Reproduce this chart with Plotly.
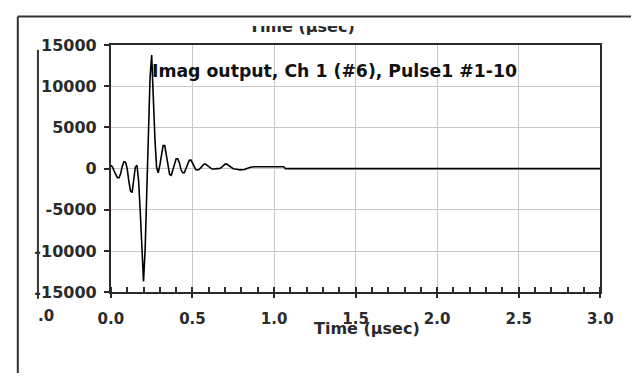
import plotly.graph_objects as go

W, H = 644, 383

# Waveform samples (time in µsec, amplitude)
time_us = [0.00, 0.01, 0.02, 0.03, 0.04, 0.05, 0.06, 0.07, 0.08, 0.09,
           0.10, 0.11, 0.12, 0.13, 0.14, 0.15, 0.16, 0.17, 0.18, 0.19,
           0.20, 0.21, 0.22, 0.23, 0.24, 0.25, 0.26, 0.27, 0.28, 0.29,
           0.30, 0.31, 0.32, 0.33, 0.34, 0.35, 0.36, 0.37, 0.38, 0.39,
           0.40, 0.41, 0.42, 0.43, 0.44, 0.45, 0.46, 0.47, 0.48, 0.49,
           0.50, 0.51, 0.52, 0.53, 0.54, 0.55, 0.56, 0.57, 0.58, 0.59,
           0.60, 0.61, 0.62, 0.63, 0.64, 0.65, 0.66, 0.67, 0.68, 0.69,
           0.70, 0.71, 0.72, 0.73, 0.74, 0.75, 0.76, 0.77, 0.78, 0.79,
           0.80, 0.81, 0.82, 0.83, 0.84, 0.85, 0.86, 0.87, 0.88, 0.95,
           1.00, 1.05, 1.06, 1.07, 1.50, 2.00, 2.50, 3.00]
amplitude = [400, 200, -300, -800, -1100, -1100, -600, 300, 850, 800,
             0, -1500, -2700, -2900, -1500, 200, 400, -1500, -5200, -9500,
             -13700, -9800, -2500, 4800, 11000, 13800, 8200, 3600, 200, -500,
             400, 1800, 2800, 2800, 1600, 100, -700, -800, -200, 600,
             1200, 1200, 700, -100, -500, -500, -100, 500, 1000, 1050,
             700, 250, -100, -150, -100, 100, 350, 530, 550, 400,
             150, 0, -50, -50, 0, 0, 0, 50, 200, 400,
             550, 550, 400, 200, 50, 0, -50, -50, -100, -150,
             -150, -150, -100, 0, 100, 150, 200, 200, 230, 230,
             230, 230, 230, 0, 0, 0, 0, 0]

x_ticks = [0.0, 0.5, 1.0, 1.5, 2.0, 2.5, 3.0]
y_ticks = [-15000, -10000, -5000, 0, 5000, 10000, 15000]

title_text = "Imag output, Ch 1 (#6), Pulse1 #1-10"
axis_title = "Time (µsec)"

FONT = "DejaVu Sans"
DARK = "#2a2a2a"

def px(x):
    return x / W

def py(y):
    return 1 - y / H

# plot area in pixels
L, R, T, B = 102, 612, 38, 298

fig = go.Figure()
fig.add_trace(go.Scatter(x=time_us, y=amplitude, mode="lines",
                         line=dict(color="black", width=1.6),
                         showlegend=False, hoverinfo="skip"))

# clipped title fragment at top (partly hidden)
fig.add_trace(go.Scatter(x=[301], y=[19.5], mode="text", text=[axis_title],
                         textposition="middle center", cliponaxis=True,
                         textfont=dict(family=FONT, size=16, color=DARK, weight="bold"),
                         xaxis="x2", yaxis="y2", showlegend=False, hoverinfo="skip"))

grid = "#c8c8c8"
fig.update_layout(
    width=W, height=H,
    margin=dict(l=0, r=0, t=0, b=0),
    paper_bgcolor="white", plot_bgcolor="white",
    xaxis=dict(domain=[px(L), px(R)], range=[0, 3], tickvals=x_ticks,
               ticktext=[f"{v:.1f}" for v in x_ticks],
               showgrid=True, gridcolor=grid, gridwidth=1,
               zeroline=False, showline=True, linecolor=DARK, linewidth=2,
               mirror=True, ticks="outside", ticklen=4, tickcolor=DARK, tickwidth=1.5,
               minor=dict(dtick=0.1, ticks="inside", ticklen=5, tickcolor=DARK, showgrid=False),
               ticklabelstandoff=8,
               tickfont=dict(family=FONT, size=15, color=DARK, weight="bold")),
    yaxis=dict(domain=[py(B), py(T)], range=[-15000, 15000], tickvals=y_ticks,
               ticktext=[str(v) for v in y_ticks],
               showgrid=True, gridcolor=grid, gridwidth=1,
               zeroline=False, showline=True, linecolor=DARK, linewidth=2,
               mirror=True, ticks="outside", ticklen=5, tickcolor=DARK, tickwidth=1.5,
               ticklabelstandoff=4,
               tickfont=dict(family=FONT, size=16, color=DARK, weight="bold")),
    xaxis2=dict(domain=[0, 1], range=[0, W], visible=False, fixedrange=True),
    yaxis2=dict(domain=[py(35), py(18)], range=[35, 18], visible=False, fixedrange=True),
)

fig.add_annotation(x=px(143), y=py(65), xref="paper", yref="paper",
                   text=title_text, showarrow=False, xanchor="left", yanchor="middle",
                   font=dict(family=FONT, size=17.3, color="#111", weight="bold"))
fig.add_annotation(x=px(369), y=py(336), xref="paper", yref="paper",
                   text=axis_title, showarrow=False, xanchor="center", yanchor="middle",
                   font=dict(family=FONT, size=16, color=DARK, weight="bold"))
fig.add_annotation(x=px(24), y=py(323), xref="paper", yref="paper",
                   text=".0", showarrow=False, xanchor="left", yanchor="middle",
                   font=dict(family=FONT, size=15, color=DARK, weight="bold"))

# outer frame (top and left) and stray vertical line
fig.add_shape(type="line", xref="paper", yref="paper", x0=px(5), x1=1, y0=py(8), y1=py(8),
              line=dict(color="#333", width=2))
fig.add_shape(type="line", xref="paper", yref="paper", x0=px(5), x1=px(5), y0=py(8), y1=0,
              line=dict(color="#333", width=2))
fig.add_shape(type="line", xref="paper", yref="paper", x0=px(26), x1=px(26), y0=py(43), y1=py(305),
              line=dict(color="#333", width=2))

fig.write_html("out.html")
